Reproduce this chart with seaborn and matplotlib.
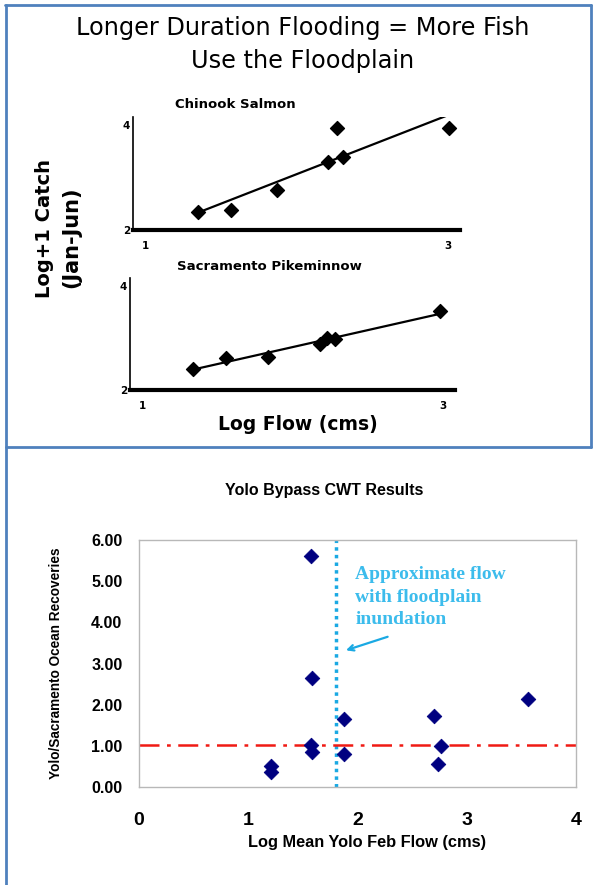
import matplotlib
matplotlib.use("Agg")
import matplotlib.pyplot as plt
import seaborn as sns
import pandas as pd
from matplotlib.lines import Line2D

# Top: log+1 catch vs log flow
chinook_flow = [1.35, 1.57, 1.87, 2.21, 2.27, 2.31, 3.01]
chinook_catch = [2.34, 2.39, 2.77, 3.30, 3.95, 3.39, 3.95]
pike_flow = [1.34, 1.56, 1.84, 2.18, 2.23, 2.28, 2.98]
pike_catch = [2.41, 2.62, 2.63, 2.89, 3.00, 2.97, 3.51]

# Bottom: CWT recoveries
cwt_flow = [1.57, 1.58, 1.57, 1.58, 1.21, 1.205, 1.88, 1.88, 2.70, 2.76, 2.74, 3.56]
cwt_ratio = [5.61, 2.65, 1.03, 0.84, 0.50, 0.36, 1.64, 0.80, 1.72, 0.99, 0.57, 2.14]
flood_flow = 1.8
ratio_ref = 1.03

sns.set_style("white")
plt.rcParams["font.family"] = ["DejaVu Sans"]
plt.rcParams["text.color"] = "black"
plt.rcParams["axes.labelcolor"] = "black"
plt.rcParams["xtick.labelcolor"] = "black"
plt.rcParams["ytick.labelcolor"] = "black"

W, H = 593, 885
fig = plt.figure(figsize=(W / 100, H / 100), dpi=100)


def box(l, t, r, b):
    return [l / W, 1 - b / H, (r - l) / W, (b - t) / H]


def at(x, y):
    return x / W, 1 - y / H


# blue frame
frame_c = "#4f81bd"
for xs, ys in [((5, 591), (5, 5)), ((6, 6), (5, 885)), ((591, 591), (5, 447)), ((6, 591), (447, 447))]:
    fig.add_artist(Line2D([x / W for x in xs], [1 - y / H for y in ys], color=frame_c, lw=2))

fig.text(*at(303, 28), "Longer Duration Flooding = More Fish", ha="center", va="center", fontsize=17.3)
fig.text(*at(303, 61), "Use the Floodplain", ha="center", va="center", fontsize=17.3)


def small_panel(rect, x, y):
    ax = fig.add_axes(rect)
    df = pd.DataFrame({"flow": x, "catch": y})
    sns.regplot(data=df, x="flow", y="catch", ax=ax, ci=None, color="black", marker="D",
                scatter_kws={"s": 50, "alpha": 1}, line_kws={"lw": 1.6})
    ax.set_xlim(0.92, 3.08)
    ax.set_ylim(2, 4.15)
    ax.set_xticks([1, 3])
    ax.set_yticks([2, 4])
    ax.tick_params(length=0, labelsize=7.5, pad=2)
    for lab in ax.get_xticklabels() + ax.get_yticklabels():
        lab.set_fontweight("bold")
    ax.tick_params(axis="x", pad=8)
    ax.set_xlabel("")
    ax.set_ylabel("")
    sns.despine(ax=ax)
    ax.spines["left"].set_linewidth(1.2)
    ax.spines["bottom"].set_linewidth(3)
    ax.spines["left"].set_color("black")
    ax.spines["bottom"].set_color("black")
    return ax


small_panel(box(133, 117, 460, 230), chinook_flow, chinook_catch)
small_panel(box(130, 278, 455, 390), pike_flow, pike_catch)
fig.text(*at(235, 104), "Chinook Salmon", ha="center", va="center", fontsize=9.5, fontweight="bold")
fig.text(*at(269, 267), "Sacramento Pikeminnow", ha="center", va="center", fontsize=9.5, fontweight="bold")

fig.text(*at(45, 229), "Log+1 Catch", rotation=90, ha="center", va="center",
         fontsize=14, fontweight="bold")
fig.text(*at(71, 237), "(Jan-Jun)", rotation=90, ha="center", va="center",
         fontsize=15, fontweight="bold")
fig.text(*at(298, 425), "Log Flow (cms)", ha="center", va="center",
         fontsize=13.5, fontweight="bold")

# bottom panel
ax3 = fig.add_axes(box(139, 540, 576, 787))
sns.scatterplot(x=cwt_flow, y=cwt_ratio, ax=ax3, marker="D", color="#000080", s=55,
                edgecolor="#000080", zorder=3)
ax3.axvline(flood_flow, color="#1aa9e3", lw=2.5, ls=(0, (1, 1.2)), zorder=2)
ax3.axhline(ratio_ref, color="#f01a14", lw=1.8, ls=(0, (8, 3, 1.5, 3)), zorder=2)
ax3.set_xlim(0, 4)
ax3.set_ylim(0, 6)
ax3.set_xticks([0, 1, 2, 3, 4])
ax3.set_yticks([0, 1, 2, 3, 4, 5, 6])
ax3.set_yticklabels([f"{v:.2f}" for v in ax3.get_yticks()])
for sp in ax3.spines.values():
    sp.set_color("#b8b8b8")
    sp.set_linewidth(1)
ax3.tick_params(axis="both", direction="out", length=4, color="#b8b8b8", width=1)
ax3.tick_params(axis="x", labelsize=14, pad=14)
ax3.tick_params(axis="y", labelsize=11.5, pad=8)
for lab in ax3.get_xticklabels() + ax3.get_yticklabels():
    lab.set_fontweight("bold")
    lab.set_family("Liberation Sans")
ax3.set_ylabel("Yolo/Sacramento Ocean Recoveries", fontsize=9.8, fontweight="bold",
               family="Liberation Sans", labelpad=20)
fig.text(*at(367, 843), "Log Mean Yolo Feb Flow (cms)", ha="center", va="center", fontsize=11.8,
         fontweight="bold", family="Liberation Sans")
fig.text(*at(324, 490), "Yolo Bypass CWT Results", ha="center", va="center", fontsize=11.5,
         fontweight="bold", family="Liberation Sans")
ax3.text(1.98, 5.36, "Approximate flow\nwith floodplain\ninundation", color="#3cbcec",
         fontsize=14, fontweight="bold", family="Liberation Serif", va="top", linespacing=1.42)
ax3.annotate("", xy=(1.87, 3.30), xytext=(2.30, 3.67),
             arrowprops=dict(arrowstyle="->", color="#1aa9e3", lw=1.6))

fig.savefig("out.png", dpi=100)
